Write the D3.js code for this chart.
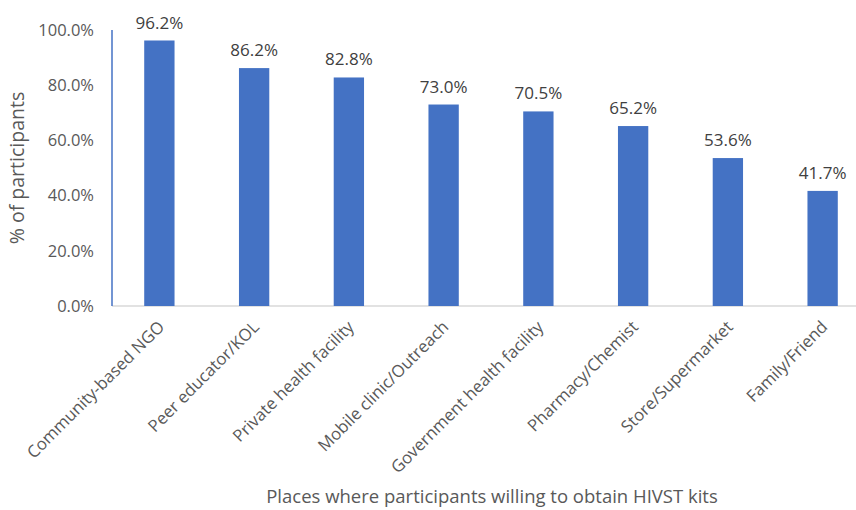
<!DOCTYPE html>
<html>
<head>
<meta charset="utf-8">
<script src="https://cdn.jsdelivr.net/npm/d3@7"></script>
<style>
  body { margin: 0; background: #fff; }
  text { font-family: "Open Sans", sans-serif; }
</style>
</head>
<body>
<div id="chart"></div>
<script>
// places where participants are willing to get HIVST kits
var places = ["Community-based NGO", "Peer educator/KOL", "Private health facility",
  "Mobile clinic/Outreach", "Government health facility", "Pharmacy/Chemist",
  "Store/Supermarket", "Family/Friend"];
var pct = [96.2, 86.2, 82.8, 73.0, 70.5, 65.2, 53.6, 41.7];
var y_ticks = [0, 20, 40, 60, 80, 100];

var W = 856, H = 510;
var margin = {top: 30, right: -14, bottom: 204, left: 112};
var width = W - margin.left - margin.right,
    height = H - margin.top - margin.bottom;

var svg = d3.select("#chart")
  .append("svg")
    .attr("width", W)
    .attr("height", H)
  .append("g")
    .attr("transform", "translate(" + margin.left + "," + margin.top + ")");

var x = d3.scaleBand()
    .range([0, width])
    .domain(places)
    .paddingInner(0.68)
    .paddingOuter(0.34);

var y = d3.scaleLinear()
    .range([height, 0])
    .domain([0, 100]);

// y axis
var ya = svg.append("g")
    .call(d3.axisLeft(y).tickValues(y_ticks).tickSize(0).tickPadding(18)
      .tickFormat(function(d) { return d.toFixed(1) + "%"; }));
ya.select(".domain").remove();
ya.selectAll("text")
    .style("font-size", "16.5px")
    .style("fill", "#595959")
    .style("font-family", "Open Sans, sans-serif");

// baseline + left axis line
svg.append("line")
    .attr("x1", 0).attr("x2", W)
    .attr("y1", y(0)).attr("y2", y(0))
    .style("stroke", "#d9d9d9")
    .style("stroke-width", 1.5);
svg.append("line")
    .attr("x1", 0).attr("x2", 0)
    .attr("y1", y(100)).attr("y2", y(0))
    .style("stroke", "#4472c4")
    .style("stroke-width", 1.5);

// bars
svg.selectAll(".bar")
  .data(places)
  .enter()
  .append("rect")
    .attr("class", "bar")
    .attr("x", function(d) { return x(d); })
    .attr("y", function(d, i) { return y(pct[i]); })
    .attr("width", x.bandwidth())
    .attr("height", function(d, i) { return height - y(pct[i]); })
    .style("fill", "#4472c4");

// value labels
svg.selectAll(".val")
  .data(places)
  .enter()
  .append("text")
    .attr("x", function(d) { return x(d) + x.bandwidth() / 2; })
    .attr("y", function(d, i) { return y(pct[i]) - 12; })
    .attr("text-anchor", "middle")
    .style("font-size", "17px")
    .style("fill", "#404040")
    .text(function(d, i) { return pct[i].toFixed(1) + "%"; });

// category labels, rotated
svg.selectAll(".cat")
  .data(places)
  .enter()
  .append("text")
    .attr("transform", function(d) {
      return "translate(" + (x(d) + x.bandwidth() / 2 + 6) + "," + (height + 22) + ") rotate(-45)";
    })
    .attr("text-anchor", "end")
    .style("font-size", "16.8px")
    .style("fill", "#595959")
    .text(function(d) { return d; });

// axis titles
svg.append("text")
    .attr("x", 380)
    .attr("y", height + 197)
    .attr("text-anchor", "middle")
    .style("font-size", "18.5px")
    .style("fill", "#595959")
    .text("Places where participants willing to obtain HIVST kits");

svg.append("text")
    .attr("transform", "translate(" + (-88) + "," + (168 - margin.top) + ") rotate(-90)")
    .attr("text-anchor", "middle")
    .style("font-size", "19.5px")
    .style("fill", "#595959")
    .text("% of participants");
</script>
</body>
</html>
